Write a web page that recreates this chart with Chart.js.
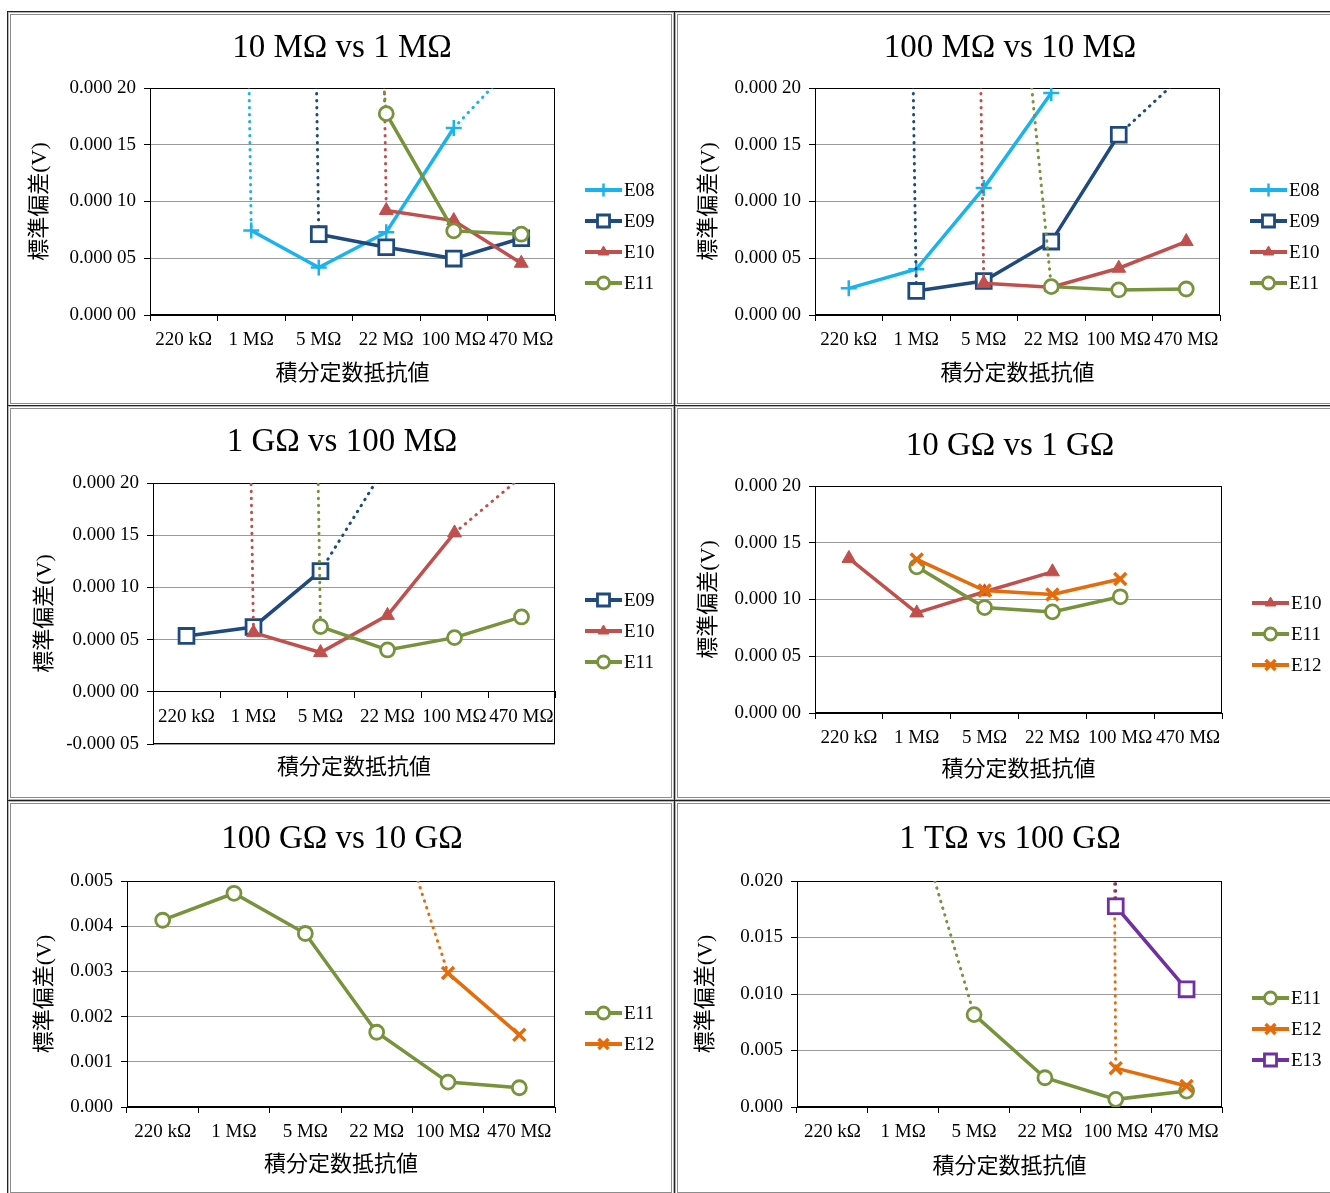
<!DOCTYPE html>
<html>
<head>
<meta charset="utf-8">
<script src="https://cdn.jsdelivr.net/npm/chart.js@4.4.0/dist/chart.umd.min.js"></script>
<style>
  body { margin: 0; background: #fff; width: 1330px; height: 1193px; overflow: hidden; position: relative; }
  .cell { position: absolute; box-sizing: border-box; width: 668px; height: 396px; border: 1px solid #222;
          box-shadow: inset 0 0 0 1px #b5b5b5, inset 0 0 0 2px #fff, inset 0 0 0 3px #8c8c8c; }
  canvas { position: absolute; }
</style>
</head>
<body>
<div class="cell" style="left:7px;top:11px"></div>
<div class="cell" style="left:674px;top:11px"></div>
<div class="cell" style="left:7px;top:405px"></div>
<div class="cell" style="left:674px;top:405px"></div>
<div class="cell" style="left:7px;top:800px"></div>
<div class="cell" style="left:674px;top:800px"></div>
<canvas id="c1" width="660" height="385" style="left:12px;top:16px"></canvas>
<canvas id="c2" width="660" height="385" style="left:680px;top:16px"></canvas>
<canvas id="c3" width="660" height="385" style="left:12px;top:411px"></canvas>
<canvas id="c4" width="660" height="385" style="left:680px;top:411px"></canvas>
<canvas id="c5" width="660" height="385" style="left:12px;top:806px"></canvas>
<canvas id="c6" width="660" height="385" style="left:680px;top:806px"></canvas>
<script>
const categories = ['220 kΩ', '1 MΩ', '5 MΩ', '22 MΩ', '100 MΩ', '470 MΩ'];

// 10 MΩ vs 1 MΩ  (values above the axis max are off the scale, only the dotted run towards them shows)
const a_E08 = [0.0040, 0.0000744, 0.0000418, 0.0000729, 0.0001647, 0.000228];
const a_E09 = [null, 0.0040, 0.0000712, 0.0000597, 0.0000497, 0.0000676];
const a_E10 = [null, null, 0.0040, 0.0000921, 0.0000832, 0.0000456];
const a_E11 = [null, null, 0.00086, 0.0001774, 0.0000741, 0.0000712];

// 100 MΩ vs 10 MΩ
const b_E08 = [0.0000235, 0.0000403, 0.0001118, 0.0001956, null, null];
const b_E09 = [0.0040, 0.0000212, 0.0000300, 0.0000647, 0.0001588, 0.000214];
const b_E10 = [null, 0.0040, 0.0000279, 0.0000244, 0.0000412, 0.0000647];
const b_E11 = [null, null, 0.00063, 0.0000250, 0.0000221, 0.0000229];

// 1 GΩ vs 100 MΩ
const c_E09 = [0.0000535, 0.0000621, 0.0001156, 0.000219, null, null];
const c_E10 = [0.0040, 0.0000567, 0.0000376, 0.0000732, 0.0001522, 0.000206];
const c_E11 = [null, 0.0040, 0.0000624, 0.0000401, 0.0000519, 0.0000717];

// 10 GΩ vs 1 GΩ
const d_E10 = [0.0001362, 0.0000882, 0.0001068, 0.0001244, null, null];
const d_E11 = [null, 0.0001288, 0.0000929, 0.0000891, 0.0001024, null];
const d_E12 = [null, 0.0001353, 0.0001079, 0.0001044, 0.0001180, null];

// 100 GΩ vs 10 GΩ
const e_E11 = [0.004132, 0.004728, 0.003838, 0.001654, 0.000551, 0.000426];
const e_E12 = [null, null, null, 0.0078, 0.002963, 0.001596];

// 1 TΩ vs 100 GΩ
const f_E11 = [null, 0.0295, 0.008176, 0.002588, 0.000676, 0.001412];
const f_E12 = [null, null, null, 0.9, 0.00344, 0.001853];
const f_E13 = [null, null, null, 0.9, 0.017765, 0.010412];

const W = 660, H = 385;
const serif = "'Liberation Serif', 'Noto Sans CJK JP', serif";

const styles = {
  E08: { color: '#1AB3EE', point: 'cross', radius: 8, legendRadius: 6.5, fill: '#1AB3EE', bw: 2.5 },
  E09: { color: '#1F4A7E', point: 'rect', radius: 10.5, legendRadius: 8.5, fill: '#fff', bw: 2.8 },
  E10: { color: '#C0504D', point: 'triangle', radius: 8, legendRadius: 6, fill: '#C0504D', bw: 1 },
  E11: { color: '#77933C', point: 'circle', radius: 7, legendRadius: 6, fill: '#fff', bw: 2.8 },
  E12: { color: '#E46C0A', point: 'crossRot', radius: 8.5, legendRadius: 7, fill: '#E46C0A', bw: 3.5 },
  E13: { color: '#7030A0', point: 'rect', radius: 10.5, legendRadius: 8.5, fill: '#fff', bw: 2.8 }
};

const fmt5 = v => { const s = v.toFixed(5); return s.slice(0, -2) + ' ' + s.slice(-2); };
const fmt3 = v => v.toFixed(3);

function series(name, values, min, max, i) {
  const s = styles[name];
  const off = c => c.p0.parsed.y > max || c.p1.parsed.y > max || c.p0.parsed.y < min || c.p1.parsed.y < min;
  return {
    label: name, data: values, order: -i,
    borderColor: s.color, borderWidth: 3.5,
    pointStyle: s.point, pointRadius: s.radius,
    pointBackgroundColor: s.fill, pointBorderColor: s.color, pointBorderWidth: s.bw,
    legendRadius: s.legendRadius,
    segment: {
      borderDash: c => off(c) ? [0.5, 6.5] : undefined,
      borderWidth: c => off(c) ? 3 : undefined,
      borderCapStyle: c => off(c) ? 'round' : undefined
    }
  };
}

// black box round the plot area
const plotFrame = {
  id: 'plotFrame',
  beforeDatasetsDraw(chart) {
    const { ctx, chartArea: a } = chart;
    ctx.save();
    ctx.strokeStyle = '#000';
    ctx.lineWidth = 1;
    ctx.strokeRect(Math.round(a.left) + 0.5, Math.round(a.top) + 0.5,
                   Math.round(a.right - a.left) - 1, Math.round(a.bottom - a.top) - 1);
    ctx.restore();
  }
};

// Excel-like legend: line sample with marker, to the right of the plot
const sideLegend = {
  id: 'sideLegend',
  afterDraw(chart, args, opts) {
    const { ctx, chartArea: a } = chart;
    const sets = chart.data.datasets;
    const x0 = a.right + 30;
    const y0 = opts.centerY - (sets.length - 1) * 31 / 2;
    sets.forEach((ds, i) => {
      const y = y0 + i * 31;
      ctx.save();
      ctx.strokeStyle = ds.borderColor;
      ctx.lineWidth = 4;
      ctx.beginPath();
      ctx.moveTo(x0, y);
      ctx.lineTo(x0 + 37, y);
      ctx.stroke();
      ctx.fillStyle = ds.pointBackgroundColor;
      ctx.strokeStyle = ds.pointBorderColor;
      ctx.lineWidth = ds.pointBorderWidth;
      Chart.helpers.drawPoint(ctx, { pointStyle: ds.pointStyle, radius: ds.legendRadius, borderWidth: ds.pointBorderWidth, rotation: 0 }, x0 + 18.5, y);
      ctx.fillStyle = '#000';
      ctx.font = '19px ' + serif;
      ctx.textBaseline = 'middle';
      ctx.fillText(ds.label, x0 + 39, y + 1);
      ctx.restore();
    });
  }
};

function draw(id, title, sets, yMin, yMax, step, fmt, g, axisAtZero) {
  const xAxisH = 40;
  const titleLh = 33 * 1.2, subLh = 22 * 1.2, yTitleLh = 22 * 1.2;
  const belowPlot = axisAtZero ? g.B : g.B + xAxisH;
  const subTop = g.xTitleY - belowPlot - subLh / 2;
  new Chart(document.getElementById(id), {
    type: 'line',
    data: {
      labels: categories,
      datasets: sets.map((s, i) => series(s[0], s[1], yMin, yMax, i))
    },
    options: {
      responsive: false,
      animation: false,
      events: [],
      layout: { padding: 0 },
      scales: {
        x: {
          type: 'category',
          offset: true,
          position: axisAtZero ? { y: 0 } : 'bottom',
          grid: { offset: true, drawOnChartArea: false, drawTicks: true, tickLength: 6, tickColor: '#000' },
          border: { color: '#000' },
          ticks: { font: { family: serif, size: 19 }, color: '#000', padding: 8, maxRotation: 0, autoSkip: false },
          afterFit: s => { if (!axisAtZero) s.height = xAxisH; }
        },
        y: {
          min: yMin,
          max: yMax,
          ticks: { stepSize: step, callback: v => fmt(v), font: { family: serif, size: 19 }, color: '#000', padding: 8 },
          grid: { color: '#9a9a9a', lineWidth: 1, drawTicks: true, tickLength: 6, tickColor: '#000' },
          border: { color: '#000' },
          title: {
            display: true, text: '標準偏差(V)', color: '#000',
            font: { family: serif, size: 22 },
            padding: { top: g.yTitleX - yTitleLh / 2, bottom: 0 }
          },
          afterFit: s => { s.width = g.L; }
        },
        // empty right-hand box that keeps room for the legend
        side: {
          type: 'linear', position: 'right', display: true,
          grid: { display: false, drawTicks: false },
          border: { display: false },
          ticks: { display: false },
          afterFit: s => { s.width = W - g.R; }
        }
      },
      plugins: {
        legend: { display: false },
        tooltip: { enabled: false },
        title: {
          display: true, text: title, color: '#000',
          font: { family: serif, size: 33, weight: 'normal' },
          padding: { top: g.titleY - titleLh / 2, bottom: g.T - g.titleY - titleLh / 2 }
        },
        subtitle: {
          display: true, position: 'bottom', fullSize: false,
          text: '積分定数抵抗値', color: '#000',
          font: { family: serif, size: 22, weight: 'normal' },
          padding: { top: subTop, bottom: H - belowPlot - subTop - subLh }
        },
        sideLegend: { centerY: g.legendY }
      }
    },
    plugins: [plotFrame, sideLegend]
  });
}

draw('c1', '10 MΩ vs 1 MΩ', [['E08', a_E08], ['E09', a_E09], ['E10', a_E10], ['E11', a_E11]],
  0, 0.0002, 0.00005, fmt5, { L: 138, R: 543, T: 72, B: 299, titleY: 32, xTitleY: 358, yTitleX: 28, legendY: 220.5 });
draw('c2', '100 MΩ vs 10 MΩ', [['E08', b_E08], ['E09', b_E09], ['E10', b_E10], ['E11', b_E11]],
  0, 0.0002, 0.00005, fmt5, { L: 135, R: 540, T: 72, B: 299, titleY: 32, xTitleY: 358, yTitleX: 29, legendY: 220.5 });
draw('c3', '1 GΩ vs 100 MΩ', [['E09', c_E09], ['E10', c_E10], ['E11', c_E11]],
  -0.00005, 0.0002, 0.00005, fmt5, { L: 141, R: 543, T: 72, B: 333, titleY: 31, xTitleY: 357, yTitleX: 33, legendY: 220 }, true);
draw('c4', '10 GΩ vs 1 GΩ', [['E10', d_E10], ['E11', d_E11], ['E12', d_E12]],
  0, 0.0002, 0.00005, fmt5, { L: 135, R: 542, T: 75, B: 302, titleY: 35, xTitleY: 359, yTitleX: 29, legendY: 223 });
draw('c5', '100 GΩ vs 10 GΩ', [['E11', e_E11], ['E12', e_E12]],
  0, 0.005, 0.001, fmt3, { L: 115, R: 543, T: 75, B: 301, titleY: 33, xTitleY: 359, yTitleX: 33, legendY: 222.5 });
draw('c6', '1 TΩ vs 100 GΩ', [['E11', f_E11], ['E12', f_E12], ['E13', f_E13]],
  0, 0.02, 0.005, fmt3, { L: 117, R: 542, T: 75, B: 301, titleY: 33, xTitleY: 361, yTitleX: 26, legendY: 223 });
</script>
</body>
</html>
